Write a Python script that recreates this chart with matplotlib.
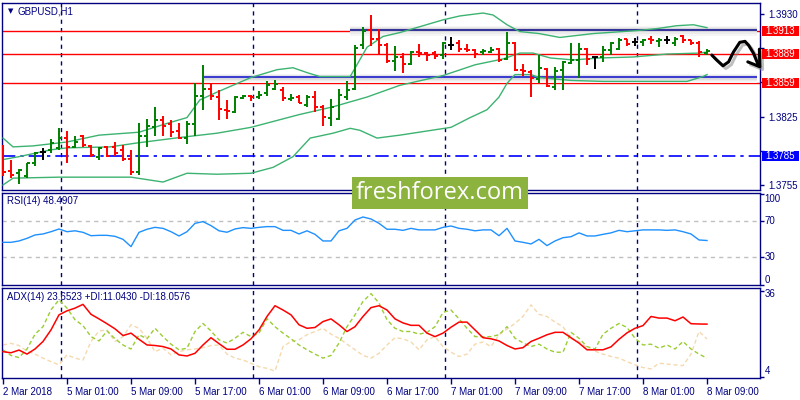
import matplotlib
matplotlib.use("Agg")
import matplotlib.pyplot as plt
import matplotlib.transforms as mtransforms
import matplotlib.patheffects as pe
from matplotlib.patches import Rectangle

plt.rcParams['font.family'] = ['Liberation Sans', 'DejaVu Sans']

# ---------------- data ----------------
opens = [1.3784, 1.3769, 1.3767, 1.3764, 1.3778, 1.3789, 1.3791, 1.3793, 1.3803, 1.3794,
         1.3805, 1.3795, 1.3784, 1.3794, 1.3794, 1.3791, 1.3782, 1.3768, 1.3805, 1.3814,
         1.3822, 1.3817, 1.3810, 1.3803, 1.3817, 1.3846, 1.3853, 1.3845, 1.3832, 1.3830,
         1.3844, 1.3846, 1.3845, 1.3849, 1.3853, 1.3852, 1.3843, 1.3845, 1.3837, 1.3845,
         1.3835, 1.3824, 1.3823, 1.3845, 1.3853, 1.3898, 1.3914, 1.3904, 1.3898, 1.3882,
         1.3886, 1.3879, 1.3891, 1.3890, 1.3890, 1.3888, 1.3898, 1.3900, 1.3894, 1.3893,
         1.3891, 1.3891, 1.3894, 1.3884, 1.3900, 1.3873, 1.3871, 1.3863, 1.3874, 1.3855,
         1.3873, 1.3880, 1.3883, 1.3894, 1.3886, 1.3886, 1.3893, 1.3894, 1.3904, 1.3901,
         1.3901, 1.3904, 1.3902, 1.3903, 1.3900, 1.3907, 1.3903, 1.3900, 1.3890]
highs = [1.3796, 1.3781, 1.3771, 1.3778, 1.3789, 1.3793, 1.3802, 1.3813, 1.3810, 1.3805,
         1.3806, 1.3796, 1.3794, 1.3795, 1.3799, 1.3796, 1.3791, 1.3818, 1.3823, 1.3835,
         1.3826, 1.3822, 1.3818, 1.3820, 1.3859, 1.3878, 1.3859, 1.3852, 1.3842, 1.3846,
         1.3847, 1.3847, 1.3851, 1.3861, 1.3862, 1.3855, 1.3848, 1.3847, 1.3847, 1.3851,
         1.3837, 1.3843, 1.3853, 1.3861, 1.3898, 1.3917, 1.3929, 1.3915, 1.3900, 1.3897,
         1.3890, 1.3892, 1.3899, 1.3891, 1.3892, 1.3901, 1.3906, 1.3903, 1.3899, 1.3894,
         1.3894, 1.3896, 1.3895, 1.3912, 1.3901, 1.3879, 1.3873, 1.3888, 1.3875, 1.3876,
         1.3882, 1.3900, 1.3900, 1.3895, 1.3886, 1.3897, 1.3901, 1.3905, 1.3904, 1.3905,
         1.3904, 1.3907, 1.3905, 1.3907, 1.3906, 1.3909, 1.3903, 1.3902, 1.3894]
lows = [1.3764, 1.3762, 1.3756, 1.3762, 1.3774, 1.3781, 1.3788, 1.3791, 1.3777, 1.3793,
        1.3794, 1.3784, 1.3781, 1.3784, 1.3785, 1.3780, 1.3765, 1.3765, 1.3794, 1.3805,
        1.3805, 1.3804, 1.3802, 1.3797, 1.3805, 1.3832, 1.3842, 1.3822, 1.3823, 1.3829,
        1.3843, 1.3841, 1.3843, 1.3846, 1.3852, 1.3841, 1.3841, 1.3839, 1.3835, 1.3830,
        1.3815, 1.3815, 1.3822, 1.3842, 1.3852, 1.3894, 1.3897, 1.3888, 1.3880, 1.3872,
        1.3870, 1.3878, 1.3886, 1.3882, 1.3884, 1.3884, 1.3893, 1.3891, 1.3891, 1.3885,
        1.3888, 1.3890, 1.3881, 1.3883, 1.3872, 1.3867, 1.3845, 1.3859, 1.3855, 1.3852,
        1.3852, 1.3879, 1.3864, 1.3878, 1.3874, 1.3881, 1.3888, 1.3893, 1.3897, 1.3897,
        1.3897, 1.3899, 1.3896, 1.3899, 1.3897, 1.3900, 1.3898, 1.3886, 1.3888]
closes = [1.3768, 1.3765, 1.3770, 1.3777, 1.3788, 1.3789, 1.3798, 1.3803, 1.3794, 1.3799,
          1.3796, 1.3786, 1.3793, 1.3785, 1.3788, 1.3782, 1.3768, 1.3805, 1.3815, 1.3822,
          1.3815, 1.3809, 1.3803, 1.3817, 1.3846, 1.3853, 1.3846, 1.3833, 1.3831, 1.3845,
          1.3846, 1.3845, 1.3847, 1.3857, 1.3858, 1.3844, 1.3844, 1.3839, 1.3845, 1.3835,
          1.3825, 1.3835, 1.3847, 1.3852, 1.3895, 1.3913, 1.3904, 1.3898, 1.3882, 1.3886,
          1.3879, 1.3891, 1.3890, 1.3888, 1.3887, 1.3900, 1.3898, 1.3894, 1.3893, 1.3889,
          1.3892, 1.3893, 1.3883, 1.3900, 1.3873, 1.3872, 1.3865, 1.3875, 1.3856, 1.3872,
          1.3881, 1.3883, 1.3894, 1.3884, 1.3886, 1.3893, 1.3900, 1.3903, 1.3899, 1.3901,
          1.3903, 1.3903, 1.3903, 1.3903, 1.3904, 1.3903, 1.3900, 1.3891, 1.3892]

# Bollinger band readings (bar position, price)
bb_upper_x = [0, 1.25, 3.75, 8, 12, 17, 20.5, 23, 24.6, 26.75, 31, 34.25, 36.25, 38, 39.6,
              43.4, 45.5, 47.5, 49.6, 55, 57.1, 60, 61.25, 63, 64.6, 67, 69.6, 73.8, 79.2,
              81.7, 84.2, 86.3, 88]
bb_upper = [1.3803, 1.3794, 1.3795, 1.3799, 1.3806, 1.3809, 1.3818, 1.3824, 1.3842, 1.3850,
            1.3865, 1.3873, 1.3875, 1.3870, 1.3866, 1.3866, 1.3896, 1.3907, 1.3911, 1.3924,
            1.3928, 1.3931, 1.3929, 1.3919, 1.3912, 1.3910, 1.3906, 1.3910, 1.3913, 1.3915,
            1.3918, 1.3919, 1.3916]
bb_mid_x = [0, 2, 6, 8, 13.4, 16.75, 22.5, 26.75, 31, 37, 41.25, 45.5, 49.6, 55, 59, 62.5,
            64.6, 66.25, 68.4, 71.25, 74.6, 78.75, 83, 87, 88]
bb_mid = [1.3781, 1.3784, 1.3791, 1.3793, 1.3794, 1.3798, 1.3804, 1.3808, 1.3814, 1.3827,
          1.3835, 1.3845, 1.3857, 1.3867, 1.3878, 1.3884, 1.3890, 1.3890, 1.3885, 1.3883,
          1.3885, 1.3886, 1.3889, 1.3890, 1.3891]
bb_lower_x = [0, 1.25, 7, 16, 20, 23, 26.75, 31, 33.75, 36.25, 38.4, 41.25, 43.4, 44.6, 46.75,
              49.6, 56, 58.4, 60.5, 62, 63, 64, 66, 67, 71, 75, 80, 85.5, 87.5, 88]
bb_lower = [1.3755, 1.3762, 1.3763, 1.3763, 1.3758, 1.3767, 1.3766, 1.3767, 1.3773, 1.3784,
            1.3803, 1.3808, 1.3813, 1.3811, 1.3803, 1.3806, 1.3814, 1.3824, 1.3832, 1.3845,
            1.3859, 1.3868, 1.3868, 1.3865, 1.3862, 1.3861, 1.3861, 1.3861, 1.3866, 1.3868]

rsi = [46.5, 46.5, 48.0, 50.9, 54.6, 55.7, 58.2, 61.2, 58.2, 59.2,
       57.5, 53.8, 54.2, 54.2, 53.1, 49.8, 41.8, 57.5, 60.9, 63.0,
       61.9, 58.2, 53.5, 58.2, 67.4, 69.3, 64.9, 59.2, 57.6, 61.2,
       62.7, 61.9, 63.0, 63.8, 63.8, 59.7, 59.7, 55.7, 59.2, 55.3,
       48.0, 48.0, 59.2, 61.9, 71.1, 74.4, 72.2, 67.4, 60.9, 60.9,
       59.7, 61.9, 60.2, 60.2, 60.2, 63.0, 64.5, 61.9, 60.9, 59.2,
       60.2, 60.2, 53.8, 61.9, 48.0, 46.5, 44.7, 49.8, 42.9, 48.0,
       51.6, 52.7, 56.9, 53.5, 53.5, 55.3, 56.9, 59.7, 58.2, 59.2,
       60.2, 60.2, 60.2, 59.7, 60.2, 58.2, 55.7, 49.1, 48.5]
adx = [13.4, 13.0, 14.0, 12.5, 14.4, 17.2, 21.5, 27.1, 28.6, 29.6,
       31.0, 27.3, 25.6, 23.8, 21.9, 19.4, 20.3, 18.0, 15.9, 15.7,
       15.3, 14.4, 12.2, 11.8, 12.8, 15.9, 18.6, 16.4, 14.3, 14.3,
       15.9, 18.2, 21.5, 26.5, 30.5, 28.9, 27.1, 23.4, 22.1, 22.4,
       24.6, 25.6, 23.4, 20.9, 22.7, 26.5, 29.8, 30.5, 28.9, 25.6,
       24.1, 23.2, 23.2, 20.3, 19.0, 20.3, 22.5, 24.4, 24.4, 21.5,
       18.6, 18.2, 17.4, 15.7, 14.4, 14.9, 17.2, 18.4, 19.7, 20.6,
       20.6, 18.6, 16.6, 14.1, 14.1, 14.1, 15.2, 18.0, 20.4, 22.1,
       23.1, 26.5, 25.9, 25.9, 24.9, 26.3, 23.8, 23.7, 23.65]
plus_di = [14.1, 12.0, 11.2, 14.4, 19.9, 22.7, 29.0, 32.7, 29.6, 25.3,
           23.1, 19.0, 17.4, 21.1, 18.2, 15.9, 14.4, 19.7, 18.2, 22.1,
           19.0, 16.2, 14.1, 14.7, 20.9, 23.9, 21.1, 17.8, 16.6, 18.4,
           20.6, 19.0, 20.3, 25.7, 22.7, 20.3, 18.2, 15.9, 14.1, 12.5,
           11.0, 12.0, 16.6, 22.7, 27.1, 32.1, 35.0, 31.5, 25.3, 22.1,
           20.9, 20.9, 19.9, 20.6, 22.7, 28.0, 28.9, 25.6, 22.1, 19.0,
           19.0, 19.0, 19.7, 22.7, 18.4, 16.7, 15.3, 16.2, 14.4, 13.2,
           13.2, 20.6, 18.4, 15.3, 14.4, 19.9, 22.1, 23.9, 22.4, 18.4,
           15.9, 16.2, 14.7, 15.9, 14.4, 17.2, 14.4, 12.5, 11.0]
minus_di = [15.9, 16.5, 15.7, 13.6, 12.5, 11.0, 9.7, 8.5, 12.2, 11.0,
            10.3, 17.2, 21.1, 21.5, 17.2, 19.0, 23.4, 22.1, 18.4, 13.4,
            14.7, 12.2, 13.4, 14.1, 14.4, 14.9, 15.7, 15.9, 12.5, 11.0,
            10.3, 9.1, 7.8, 7.2, 6.2, 15.3, 17.2, 17.8, 19.7, 20.9,
            22.1, 19.9, 18.4, 16.2, 14.1, 12.0, 11.0, 12.8, 15.9, 18.6,
            18.2, 17.0, 14.1, 17.8, 19.0, 15.3, 13.2, 11.6, 12.5, 16.2,
            17.0, 15.3, 19.7, 21.8, 23.9, 26.5, 30.8, 27.3, 26.5, 24.4,
            22.7, 18.2, 17.2, 14.9, 13.6, 12.5, 11.6, 11.0, 9.7, 8.5,
            7.5, 7.0, 9.1, 8.8, 8.5, 8.2, 12.5, 20.9, 18.1]

date_labels = ["2 Mar 2018", "5 Mar 01:00", "5 Mar 09:00", "5 Mar 17:00", "6 Mar 01:00",
               "6 Mar 09:00", "6 Mar 17:00", "7 Mar 01:00", "7 Mar 09:00", "7 Mar 17:00",
               "8 Mar 01:00", "8 Mar 09:00"]
date_label_bars = [0, 8, 16, 24, 32, 40, 48, 56, 64, 72, 80, 88]
day_start_bars = [7, 31, 55, 79]
# right-axis grid prices; only the ones not hidden behind a level box are labelled
price_ticks = [1.3930, 1.3895, 1.3860, 1.3825, 1.3790, 1.3755]
price_tick_labels = ["1.3930", "", "", "1.3825", "", "1.3755"]
red_levels = [1.3913, 1.3889, 1.3859]
support_level = 1.3785
zone_prices = [1.3914, 1.38655]
zone_start_bars = [43.4, 25.0]
zone_colors = ["#34349a", "#3d3dd0"]
arrow_x = [88.6, 89.2, 90.0, 90.7, 91.3, 92.1, 92.75, 93.2, 93.8, 94.4]
arrow_y = [1.3888, 1.3883, 1.3877, 1.3881, 1.3891, 1.3901, 1.3902, 1.3898, 1.3890, 1.3878]
arrowhead_x = [93.1, 94.6, 94.55]
arrowhead_y = [1.3881, 1.3876, 1.3894]

# ---------------- style ----------------
NAVY = "#000080"
UP, DOWN, DOJI = "#008000", "#FF0000", "#000000"
W, H = 800, 400
XMIN, XMAX = -0.125, 94.625

fig = plt.figure(figsize=(8, 4), dpi=100)
fig.patch.set_facecolor("white")


def rect(x0, y0, x1, y1):
    return [x0 / W, 1 - y1 / H, (x1 - x0) / W, (y1 - y0) / H]


ax = fig.add_axes(rect(2, 3, 760, 190))
ax_rsi = fig.add_axes(rect(2, 193.3, 760, 285))
ax_adx = fig.add_axes(rect(2, 287.7, 760, 378.3))

for a in (ax, ax_rsi, ax_adx):
    a.set_xlim(XMIN, XMAX)
    for s in a.spines.values():
        s.set_color(NAVY)
        s.set_linewidth(1.0)
    a.set_xticks([])
    a.yaxis.tick_right()
    for d in day_start_bars:
        a.axvline(d + 0.2, color=NAVY, lw=1.0, ls=(0, (3, 3)), zorder=1.5)

# ---- main panel ----
ax.set_ylim(1.374986, 1.394126)
n = len(opens)
tick = 0.4
for i in range(n):
    o, h, l, c = opens[i], highs[i], lows[i], closes[i]
    col = UP if c > o else (DOWN if c < o else DOJI)
    ax.vlines(i, l, h, color=col, lw=1.4, zorder=4)
    ax.hlines(o, i - tick, i, color=col, lw=1.4, zorder=4)
    ax.hlines(c, i, i + tick, color=col, lw=1.4, zorder=4)

band_col = "#3CB371"
ax.plot(bb_upper_x, bb_upper, color=band_col, lw=1.0, zorder=3)
ax.plot(bb_mid_x, bb_mid, color=band_col, lw=1.0, zorder=3)
ax.plot(bb_lower_x, bb_lower, color=band_col, lw=1.0, zorder=3)

for p in red_levels:
    ax.axhline(p, color="#FF0000", lw=1.0, zorder=2)
ax.axhline(support_level, color="#0000FF", lw=1.2, ls=(0, (8, 3, 2, 3)), zorder=2)

# zones with soft shadow
pxp = (1.394126 - 1.374986) / 187.0  # price per pixel
for zp, zs, zc in zip(zone_prices, zone_start_bars, zone_colors):
    for up_h, dn_h, colr in ((3.5, 6.0, "#f5f5f5"), (2.5, 4.2, "#ebebeb"), (1.5, 2.5, "#dedede")):
        ax.fill_between([zs, XMAX - 0.4], zp - dn_h * pxp, zp + up_h * pxp,
                        color=colr, lw=0, zorder=2.1)
    ax.hlines(zp, zs, XMAX - 0.4, color=zc, lw=1.5, zorder=2.3)

# hand drawn arrow
shadow = [pe.SimpleLineShadow(offset=(2, -2), shadow_color="#808080", alpha=0.5), pe.Normal()]
ax.plot(arrow_x, arrow_y, color="black", lw=2.2, solid_capstyle="round",
        solid_joinstyle="round", clip_on=False, zorder=6, path_effects=shadow)
ax.plot(arrowhead_x, arrowhead_y, color="black", lw=2.2, solid_capstyle="round",
        solid_joinstyle="round", clip_on=False, zorder=6, path_effects=shadow)

ax.set_yticks(price_ticks)
ax.set_yticklabels(price_tick_labels)
ax.tick_params(axis="y", length=3, width=1, color=NAVY, labelsize=7,
               labelcolor=NAVY, pad=3)

blend = mtransforms.blended_transform_factory(ax.transAxes, ax.transData)
for p, bc in [(1.3913, "#FF0000"), (1.3889, "#FF0000"), (1.3859, "#FF0000"),
              (support_level, "#0000FF")]:
    ax.add_patch(Rectangle((1.0025, p - 5 * pxp), 0.0485, 10 * pxp, transform=blend,
                           facecolor=bc, edgecolor="none", clip_on=False, zorder=10))
    ax.text(1.0065, p, f"{p:.4f}", transform=blend, color="white", fontsize=7,
            va="center", ha="left", clip_on=False, zorder=11)

fig.text(8 / W, 1 - 11 / H, "\u25BC", fontsize=5, color=NAVY, va="center", ha="left",
         family="DejaVu Sans")
fig.text(18 / W, 1 - 11 / H, "GBPUSD,H1", fontsize=7, color=NAVY, va="center", ha="left")

# ---- RSI panel ----
ax_rsi.set_ylim(-0.5, 100.5)
ax_rsi.plot(range(len(rsi)), rsi, color="#1E90FF", lw=1.0, zorder=3)
for lv in (70, 30):
    ax_rsi.axhline(lv, color="#C0C0C0", lw=1.0, ls=(0, (3, 3)), zorder=1)
ax_rsi.set_yticks([100, 70, 30, 0])
ax_rsi.set_yticklabels([])
ax_rsi.tick_params(axis="y", length=3, width=1, color=NAVY)
bl_r = mtransforms.blended_transform_factory(ax_rsi.transAxes, ax_rsi.transData)
for v, va in ((100, "top"), (70, "center"), (30, "center"), (0, "bottom")):
    ax_rsi.text(1.006, v, str(v), transform=bl_r, fontsize=7, color=NAVY, va=va,
                ha="left", clip_on=False)
fig.text(7 / W, 1 - 201 / H, "RSI(14) 48.4907", fontsize=7, color=NAVY,
         va="center", ha="left")

# ---- ADX panel ----
ax_adx.set_ylim(3.5, 37.2)
xs = range(len(adx))
ax_adx.plot(xs, minus_di, color="#F5D9AE", lw=1.0, ls=(0, (3, 2)), zorder=2)
ax_adx.plot(xs, plus_di, color="#9ACD32", lw=1.0, ls=(0, (3, 2)), zorder=2.5)
ax_adx.plot(xs, adx, color="#FF0000", lw=1.1, zorder=3)
ax_adx.set_yticks([36, 4])
ax_adx.set_yticklabels([])
ax_adx.tick_params(axis="y", length=3, width=1, color=NAVY)
ax_adx.text(1.006, 0.985, "36", transform=ax_adx.transAxes, fontsize=7, color=NAVY,
            va="top", ha="left")
ax_adx.text(1.006, 0.02, "4", transform=ax_adx.transAxes, fontsize=7, color=NAVY,
            va="bottom", ha="left")
fig.text(7 / W, 1 - 297 / H, "ADX(14) 23.6523 +DI:11.0430 -DI:18.0576", fontsize=7,
         color=NAVY, va="center", ha="left")

ax_adx.set_xticks(date_label_bars)
ax_adx.set_xticklabels(date_labels)
ax_adx.tick_params(axis="x", length=4, width=1, color=NAVY, labelsize=7,
                   labelcolor=NAVY, pad=2)
for lbl in ax_adx.get_xticklabels():
    lbl.set_ha("left")

# ---- watermark ----
fig.patches.append(Rectangle((352 / W, 1 - 209 / H), 176 / W, 32 / H,
                             transform=fig.transFigure, facecolor="#8DB33F",
                             edgecolor="none", zorder=100))
fig.text(440 / W, 1 - 193 / H, "freshforex.com", fontsize=17, color="white",
         family=["Open Sans", "DejaVu Sans"], va="center", ha="center", zorder=101)

fig.savefig("out.png", dpi=100, facecolor="white")
